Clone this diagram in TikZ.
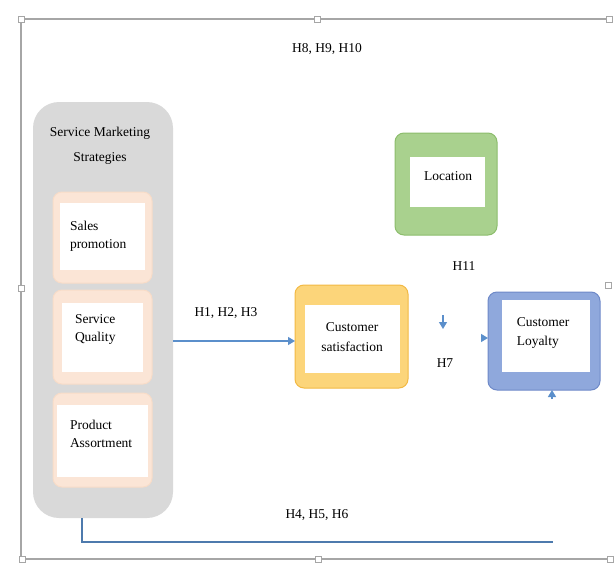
\documentclass[tikz,border=0pt]{standalone}
\usepackage{fontspec}
\setmainfont{Liberation Serif}
\usetikzlibrary{arrows.meta}

\definecolor{framegray}{HTML}{A6A6A6}
\definecolor{groupgray}{HTML}{D9D9D9}
\definecolor{peach}{HTML}{FBE5D6}
\definecolor{peachline}{HTML}{F8DCC8}
\definecolor{goldfill}{HTML}{FCD57A}
\definecolor{goldline}{HTML}{F2B944}
\definecolor{bluefill}{HTML}{8FA8DC}
\definecolor{blueline}{HTML}{6E89C8}
\definecolor{greenfill}{HTML}{A9D18E}
\definecolor{greenline}{HTML}{8CBD6C}
\definecolor{linkblue}{HTML}{5B8FCB}

\begin{document}
\begin{tikzpicture}[x=1pt,y=-1pt,
  every node/.style={inner sep=0pt, outer sep=0pt},
  txt/.style={font=\fontsize{13.5}{19}\selectfont, align=left},
  ctxt/.style={font=\fontsize{13.5}{20}\selectfont, align=center},
  lbl/.style={font=\fontsize{13.5}{16}\selectfont},
  outerbox/.style={rounded corners=9pt, line width=1pt},
  innerbox/.style={fill=white, draw=none},
  conn/.style={draw=linkblue, line width=1.3pt},
  tip/.style={-{Triangle[length=7pt,width=8pt]}},
  framestyle/.style={draw=framegray, line width=1.5pt},
  handle/.style={draw=framegray, fill=white, line width=0.8pt, minimum size=6pt}
]
\useasboundingbox (0,0) rectangle (614,563);

% canvas frame with its selection handles
\draw[framestyle] (21,19) -- (610,19);
\draw[framestyle] (21,19) -- (21,559) -- (610,559);
\foreach \hx/\hy/\hn in {21/19/ha,317/19/hb,609/19/hc,21/288/hd,608/285/he,22/559/hf,318/559/hg,610/559/hh}
  \node[handle] (\hn) at (\hx,\hy) {};

% group: service marketing strategies
\node[fill=groupgray, rounded corners=26pt, minimum width=140pt, minimum height=416pt] (grp) at (103,310) {};
\node[ctxt, font=\fontsize{13.5}{25}\selectfont] (grptitle) at (100,145.5) {Service Marketing\\Strategies};

\node[outerbox, fill=peach, draw=peachline, minimum width=99pt, minimum height=91pt] (sp) at (102.5,237.5) {};
\node[innerbox, minimum width=85pt, minimum height=67pt] (spin) at (102.5,236.5) {};
\node[txt, anchor=west, font=\fontsize{13.5}{18}\selectfont] (sptext) at (70,236) {Sales\\promotion};

\node[outerbox, fill=peach, draw=peachline, minimum width=99pt, minimum height=94pt] (sq) at (102.5,337) {};
\node[innerbox, minimum width=81pt, minimum height=69pt] (sqin) at (102.5,337.5) {};
\node[txt, anchor=west, font=\fontsize{13.5}{18}\selectfont] (sqtext) at (75,329) {Service\\Quality};

\node[outerbox, fill=peach, draw=peachline, minimum width=99pt, minimum height=94pt] (pa) at (102.5,440) {};
\node[innerbox, minimum width=91pt, minimum height=72pt] (pain) at (102.5,441) {};
\node[txt, anchor=west, font=\fontsize{13.5}{18}\selectfont] (patext) at (70,434) {Product\\Assortment};

% customer satisfaction
\node[outerbox, fill=goldfill, draw=goldline, minimum width=113pt, minimum height=103pt] (cs) at (351.5,336.5) {};
\node[innerbox, minimum width=95pt, minimum height=68pt] (csin) at (352.5,339) {};
\node[ctxt] (cstext) at (352,337.5) {Customer\\satisfaction};

% customer loyalty
\node[outerbox, fill=bluefill, draw=blueline, minimum width=112pt, minimum height=98pt] (cl) at (544,341) {};
\node[innerbox, minimum width=88pt, minimum height=72pt] (clin) at (546,336) {};
\node[txt] (cltext) at (543,332.5) {Customer\\Loyalty};

% location
\node[outerbox, fill=greenfill, draw=greenline, minimum width=102pt, minimum height=102pt] (loc) at (446,184) {};
\node[innerbox, minimum width=75pt, minimum height=50pt] (locin) at (447.5,182) {};
\node[lbl] (loctext) at (448,176) {Location};

% hypothesis labels
\node[lbl] (h8) at (327,49) {H8, H9, H10};
\node[lbl] (h1) at (226,313) {H1, H2, H3};
\node[lbl] (h11) at (464,266) {H11};
\node[lbl] (h7) at (445,363) {H7};
\node[lbl] (h4) at (317,515) {H4, H5, H6};

% links
\draw[conn, tip] (grp.east |- 0,341) -- (cs.west |- 0,341);
\coordinate (h11from) at (443,315);
\coordinate (h11to) at (443,329);
\draw[conn, tip] (h11from) -- (h11to);
\coordinate (clleft) at (481,338);
\draw[conn, tip] (clleft) -- (cl.west |- clleft);
\coordinate (clbelow) at (552,399);
\draw[conn, tip] (clbelow) -- (cl.south -| clbelow);
\coordinate (loopend) at (553,542);
\draw[conn, draw=linkblue!85!black] (grp.south -| 82,0) -- (82,542) -- (loopend);
\end{tikzpicture}
\end{document}
